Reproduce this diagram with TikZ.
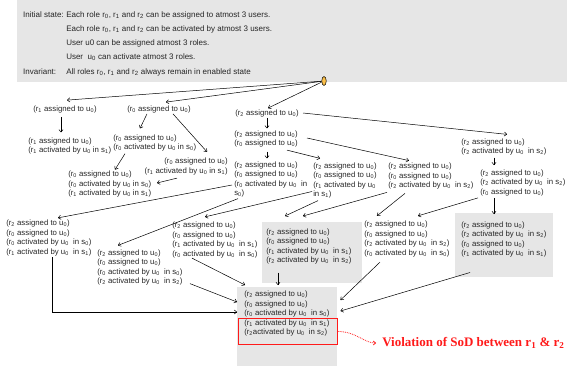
\documentclass[tikz,border=0pt]{standalone}
\usepackage{fontspec}
\setmainfont{Liberation Sans}
\newfontfamily\violfont{Liberation Serif}
\usepackage{tikz}
\usetikzlibrary{calc}
\usetikzlibrary{arrows.meta}
\usetikzlibrary{shapes.geometric}
\usetikzlibrary{positioning}
\definecolor{boxgray}{HTML}{E6E6E6}
\definecolor{knob}{HTML}{FBC04A}
\definecolor{sodred}{HTML}{FF1A1A}
\newcommand{\rasg}[1]{(r\textsubscript{#1} assigned to u\textsubscript{0})}
\newcommand{\ract}[2]{(r\textsubscript{#1} activated by u\textsubscript{0} in s\textsubscript{#2})}
\newcommand{\ractw}[2]{(r\textsubscript{#1} activated by u\textsubscript{0}~ in s\textsubscript{#2})}
\tikzset{rstate/.style={align=left,inner sep=0pt,anchor=west,text=black!85,font=\fontsize{7.8}{9.5}\selectfont}}
\tikzset{hdr/.style={inner sep=0pt,anchor=west,text=black!85,text height=5.8pt,text depth=1.7pt,font=\fontsize{8}{9.5}\selectfont}}
\tikzset{gbox/.style={rectangle,fill=boxgray,draw=none,inner sep=0pt,anchor=north west}}
\tikzset{knobnode/.style={ellipse,draw=black,fill=knob,inner sep=0pt,minimum width=4.5pt,minimum height=9pt}}
\tikzset{sodframe/.style={rectangle,draw=sodred,line width=0.9pt,inner sep=0pt,anchor=north west}}

\begin{document}
\begin{tikzpicture}[x=1pt,y=-1pt,>={To[length=3pt,width=4.5pt]},line width=0.5pt]
\useasboundingbox (0,0) rectangle (567,366);

\node[gbox, minimum width=550pt, minimum height=82pt] (hbox) at (17,0) {};
\node[hdr] (ini) at (23,15) {Initial state:};
\node[hdr] (h1) at (66,15) {Each role r\textsubscript{0}, r\textsubscript{1} and r\textsubscript{2} can be assigned to atmost 3 users.};
\node[hdr] (h2) at (66,29) {Each role r\textsubscript{0}, r\textsubscript{1} and r\textsubscript{2} can be activated by atmost 3 users.};
\node[hdr] (h3) at (66,43) {User u0 can be assigned atmost 3 roles.};
\node[hdr] (h4) at (66,57) {User~ u\textsubscript{0} can activate atmost 3 roles.};
\node[hdr] (inv) at (23,72) {Invariant:};
\node[hdr] (h5) at (66,72) {All roles r\textsubscript{0}, r\textsubscript{1} and r\textsubscript{2} always remain in enabled state};
\node[knobnode] (top) at (324,81) {};

\node[rstate] (A) at (33,109) {\rasg{1}};
\node[rstate] (B) at (127,109) {\rasg{0}};
\node[rstate] (C) at (235,113) {\rasg{2}};
\node[rstate] (A2) at (28,146) {\rasg{1}\\\ract{1}{1}};
\node[rstate] (B2) at (113,143) {\rasg{0}\\\ract{0}{0}};
\node[rstate, align=right, anchor=east] (B3) at (228,166.5) {\rasg{0}\\\ract{1}{1}};
\node[rstate] (B4) at (68,184) {\rasg{0}\\\ract{0}{0}\\\ract{1}{1}};
\node[rstate] (C2) at (234,139) {\rasg{2}\\\rasg{0}};
\node[rstate] (C3) at (234,179.5) {\rasg{2}\\\rasg{0}\\(r\textsubscript{0} activated by u\textsubscript{0}~ in\\s\textsubscript{0})};
\node[rstate] (C4) at (313,180.5) {\rasg{2}\\\rasg{0}\\(r\textsubscript{1} activated by u\textsubscript{0}\\in s\textsubscript{1})};
\node[rstate] (C5) at (388,176) {\rasg{2}\\\rasg{0}\\\ractw{2}{2}};
\node[rstate] (D) at (461,147) {\rasg{2}\\\ractw{2}{2}};
\node[rstate] (D2) at (480,182.5) {\rasg{2}\\\ractw{2}{2}\\\rasg{0}};
\node[rstate] (E) at (6,238) {\rasg{2}\\\rasg{0}\\\ractw{0}{0}\\\ractw{1}{1}};
\node[rstate] (F) at (97,267.5) {\rasg{2}\\\rasg{0}\\\ractw{0}{0}\\\ractw{2}{2}};
\node[rstate] (H) at (172,240) {\rasg{2}\\\rasg{0}\\\ractw{1}{1}\\\ractw{0}{0}};
\node[rstate] (J) at (364,239) {\rasg{2}\\\rasg{0}\\\ractw{2}{2}\\\ractw{0}{0}};

\node[gbox, minimum width=100pt, minimum height=61pt] (Gbox) at (262,222) {};
\node[rstate, below right=6.3pt and 4pt of Gbox.north west] (G) {\rasg{2}\\\rasg{0}\\\ractw{1}{1}\\\ractw{2}{2}};
\node[gbox, minimum width=98pt, minimum height=64pt] (Kbox) at (455,213) {};
\node[rstate, below right=8.3pt and 6pt of Kbox.north west] (K) {\rasg{2}\\\ractw{2}{2}\\\rasg{0}\\\ractw{1}{1}};
\node[gbox, minimum width=100pt, minimum height=79pt] (Ibox) at (237,287) {};
\node[rstate] (I) at (244,313.5) {\rasg{2}\\\rasg{0}\\\ractw{0}{0}\\\ractw{1}{1}\\(r\textsubscript{2}activated by u\textsubscript{0}~ in s\textsubscript{2})};
\node[sodframe, minimum width=99pt, minimum height=26pt] (sodbox) at (238,318) {};
\node[inner sep=0pt, anchor=west, text=sodred, font=\violfont\bfseries\fontsize{13}{15}\selectfont] (viol) at (382,343) {Violation of SoD between r\textsubscript{1} \& r\textsubscript{2}};

\draw[->] (top) -- ($(A.north west)+(34,-5)$);
\draw[->] (top) -- ($(B.north west)+(39,-3)$);
\draw[->] (top) -- ($(C.north west)+(33,-1)$);
\draw[->] ($(A.south west)+(28,4)$) -- ($(A2.north west)+(33,-5)$);
\draw[->] ($(B.south west)+(20,1)$) -- ($(B2.north west)+(27,-6)$);
\draw[->] ($(B.south west)+(46,1)$) -- ($(B3.north east)+(-21,-6)$);
\draw[->] ($(B2.south west)+(12,2)$) -- ($(B4.north west)+(47,-1)$);
\draw[->] ($(B3.south east)+(-51,3)$) -- ($(B4.west)+(89,-1)$);
\draw[->] ($(C.south west)+(32,1)$) -- ($(C2.north west)+(33,-2)$);
\draw[->] ($(C.west)+(68,0)$) -- ($(D.north west)+(46,-4)$);
\draw[->] ($(D.south west)+(33,2)$) -- ($(D2.north west)+(14,-4)$);
\draw[->] ($(C2.south west)+(33,4)$) -- ($(C3.north west)+(33,-3)$);
\draw[->] ($(C2.south west)+(53,2.5)$) -- ($(C4.north west)+(7,-4)$);
\draw[->] ($(C2.west)+(73,-1)$) -- ($(C5.north west)+(21,-2)$);
\draw[->] ($(C3.west)+(-2,5.5)$) -- ($(E.north west)+(52,-2)$);
\draw[->] ($(C3.south west)+(4,1)$) -- ($(F.north west)+(21,-4)$);
\draw[->] ($(C4.west)+(-1,11)$) -- ($(H.north west)+(33,-5)$);
\draw[->] ($(C4.south west)+(5,2)$) -- ($(Gbox.north west)+(23,-6)$);
\draw[->] ($(C5.south west)+(-1,3)$) -- ($(Gbox.north west)+(41,-6)$);
\draw[->] ($(C5.south west)+(17,4)$) -- ($(J.north west)+(13,-5)$);
\draw[->] ($(D2.south west)+(-2,2)$) -- ($(J.north west)+(54,-5)$);
\draw[->] ($(D2.south west)+(14,2)$) -- ($(Kbox.north west)+(39,1)$);
\draw[->] ($(E.south west)+(46,1)$) |- ($(Ibox.north west)+(0,25)$);
\draw[->] ($(F.south west)+(93,-2)$) -- ($(Ibox.north west)+(0,15)$);
\draw[->] ($(H.south west)+(20,0)$) -- ($(Ibox.north west)+(8,-2)$);
\draw[->] ($(Gbox.south west)+(16,-11)$) -- ($(Ibox.north west)+(41,-2)$);
\draw[->] ($(J.south west)+(16,5)$) -- ($(Ibox.north east)+(3,13)$);
\draw[->] ($(Kbox.south west)+(15,-5)$) -- ($(Ibox.north east)+(3,24)$);
\draw[->, sodred, densely dotted, line width=0.8pt, shorten >=6pt] (sodbox.east) to[out=0, in=180] (viol.west);
\end{tikzpicture}
\end{document}
